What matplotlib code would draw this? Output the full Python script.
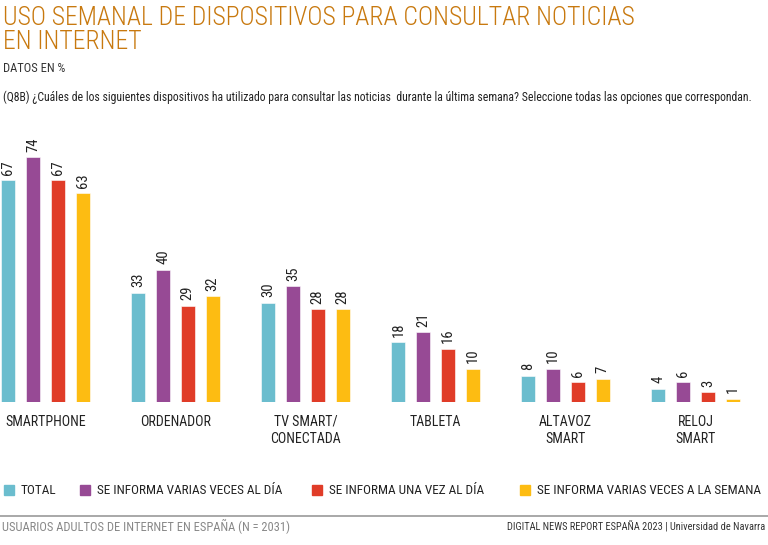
import numpy as np
import matplotlib
matplotlib.use('Agg')
import matplotlib.pyplot as plt
from matplotlib.patches import Rectangle
from matplotlib.lines import Line2D

plt.rcParams['font.family'] = ['Roboto Condensed', 'Archivo Narrow', 'Liberation Sans', 'DejaVu Sans']

# Datos
categorias = ['SMARTPHONE', 'ORDENADOR', 'TV SMART/\nCONECTADA', 'TABLETA', 'ALTAVOZ\nSMART', 'RELOJ\nSMART']
series = ['TOTAL', 'SE INFORMA VARIAS VECES AL DÍA', 'SE INFORMA UNA VEZ AL DÍA',
          'SE INFORMA VARIAS VECES A LA SEMANA']
total = [67, 33, 30, 18, 8, 4]
varias_dia = [74, 40, 35, 21, 10, 6]
una_dia = [67, 29, 28, 16, 6, 3]
varias_semana = [63, 32, 28, 10, 7, 1]
valores = [total, varias_dia, una_dia, varias_semana]
colores = ['#6BBDCE', '#974A95', '#E03C28', '#FDBC12']

W, H = 768, 545
fig = plt.figure(figsize=(W / 100, H / 100), dpi=100)

# Eje: base de las barras en y=402 px
base_px = 402
top_px = 140
ax = fig.add_axes([0, (H - base_px) / H, 1, (base_px - top_px) / H])
px_por_unidad = 3.31
ax.set_ylim(0, (base_px - top_px) / px_por_unidad)
paso = 130.0
ax.set_xlim(-45.5 / paso, (W - 45.5) / paso)

x = np.arange(len(categorias))
ancho = 14 / paso
desplaz = 24.7 / paso
for k, (vals, col) in enumerate(zip(valores, colores)):
    pos = x + (k - 1.5) * desplaz
    barras = ax.bar(pos, vals, width=ancho, color=col, edgecolor='white', linewidth=0.4)
    for b, v in zip(barras, vals):
        ax.annotate(str(v), (b.get_x() + b.get_width() / 2, v), xytext=(0, 4),
                    textcoords='offset points', rotation=90, ha='center', va='bottom',
                    fontsize=10.5, color='#222222')

ax.axis('off')

# Etiquetas de categoría
for i, c in enumerate(categorias):
    ax.annotate(c, (i, 0), xytext=(0, -9), textcoords='offset points', ha='center', va='top',
                fontsize=10, color='#222222', linespacing=1.3)

# Títulos
naranja = '#C8790F'
fig.text(3 / W, 1 - 6 / H, 'USO SEMANAL DE DISPOSITIVOS PARA CONSULTAR NOTICIAS\nEN INTERNET',
         ha='left', va='top', fontsize=18.5, color=naranja, linespacing=0.98, fontweight='light')
fig.text(3 / W, 1 - 62 / H, 'DATOS EN %', ha='left', va='top', fontsize=9, color='#333333')
fig.text(3 / W, 1 - 91 / H,
         '(Q8B) ¿Cuáles de los siguientes dispositivos ha utilizado para consultar las noticias  durante la última semana? '
         'Seleccione todas las opciones que correspondan.',
         ha='left', va='top', fontsize=8.5, color='#222222')

# Leyenda
leg_x = [4, 80, 312, 520]
leg_y = 1 - 490 / H
for lx, s, col in zip(leg_x, series, colores):
    fig.patches.append(Rectangle((lx / W, leg_y - 5 / H), 10 / W, 10 / H, color=col,
                                 transform=fig.transFigure, figure=fig))
    fig.text((lx + 17) / W, leg_y, s, ha='left', va='center', fontsize=9.5, color='#222222')

# Pie
fig.add_artist(Line2D([0, 1], [1 - 516 / H, 1 - 516 / H], transform=fig.transFigure,
                      color='#9A9A9A', linewidth=1.2))
fig.text(2 / W, 1 - 526 / H, 'USUARIOS ADULTOS DE INTERNET EN ESPAÑA (N = 2031)',
         ha='left', va='center', fontsize=9, color='#888888')
fig.text(1 - 3 / W, 1 - 526 / H, 'DIGITAL NEWS REPORT ESPAÑA 2023 | Universidad de Navarra',
         ha='right', va='center', fontsize=7.5, color='#333333')

fig.savefig('out.png', dpi=100)
